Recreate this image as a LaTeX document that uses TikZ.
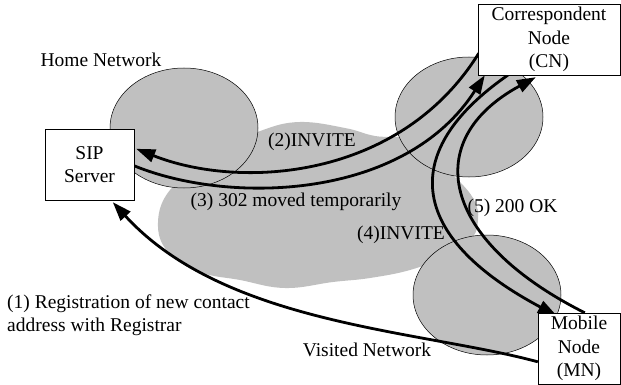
\documentclass[tikz,border=0pt]{standalone}
\usepackage{fontspec}
\setmainfont{Liberation Serif}
\usetikzlibrary{arrows.meta,calc}
\definecolor{netgray}{RGB}{192,192,192}
\begin{document}
\begin{tikzpicture}[x=1pt,y=-1pt,
  txt/.style={font=\fontsize{19.5}{23.5}\selectfont, inner sep=0pt},
  entity/.style={draw, line width=0.9pt, fill=white, align=center, inner sep=0pt,
                 font=\fontsize{19.5}{23.5}\selectfont},
  net/.style={fill=netgray, draw=black, line width=0.5pt},
  msg/.style={line width=2.8pt, -{Triangle[length=19pt,width=13pt]}},
]
\useasboundingbox (0,0) rectangle (621,385);

% core network cloud
\fill[netgray] plot[smooth cycle, tension=0.7] coordinates {
  (263,130) (300,122) (345,128) (375,136) (410,140) (440,165) (458,180)
  (474,200) (478,220) (470,240) (440,258) (410,270) (370,278) (333,282)
  (285,288) (240,280) (200,272) (168,252) (158,222) (170,190) (200,170) (235,145)};

% access networks
\draw[net] (184,128) ellipse [x radius=74, y radius=60];
\draw[net] (469,117) ellipse [x radius=74, y radius=60];
\draw[net] (487,295) ellipse [x radius=74, y radius=60];

% network labels
\node[txt] (homelbl) at (101,60) {Home Network};
\node[txt] (visitlbl) at (367,350) {Visited Network};

% box outlines reserved first, drawn after the messages
\path (89.5,164.5) node[minimum width=89pt, minimum height=71pt, inner sep=0pt] (sip) {}
      (549,39.5) node[minimum width=142pt, minimum height=71pt, inner sep=0pt] (cn) {}
      (579,348.5) node[minimum width=82pt, minimum height=71pt, inner sep=0pt] (mn) {};

% attachment points on the boxes
\coordinate (cn-inv2) at ($(cn.south west)+(1,-22)$);
\coordinate (cn-302) at ($(cn.south west)+(7,0)$);
\coordinate (cn-inv4) at ($(cn.south west)+(30,0)$);
\coordinate (cn-ok) at ($(cn.south west)+(58,2)$);
\coordinate (sip-inv2) at ($(sip.north east)+(2,20)$);
\coordinate (sip-302) at ($(sip.north east)+(0,37)$);
\coordinate (sip-reg) at ($(sip.south west)+(68,2)$);
\coordinate (mn-inv4) at ($(mn.north west)+(19,3)$);
\coordinate (mn-ok) at ($(mn.north west)+(47,0)$);
\coordinate (mn-reg) at ($(mn.north west)+(0,49)$);

% signalling messages
\draw[msg] (cn-inv2) .. controls (400,180) and (240,190) .. (sip-inv2);
\draw[msg] (sip-302) .. controls (230,205) and (405,200) .. (cn-302);
\draw[msg] (cn-inv4) .. controls (400,150) and (405,235) .. (mn-inv4);
\draw[msg] (mn-ok) .. controls (440,240) and (420,140) .. (cn-ok);
\draw[msg] (mn-reg) .. controls (420,330) and (225,325) .. (sip-reg);

% entities
\node[entity, minimum width=89pt, minimum height=71pt] at (sip) {SIP\\Server};
\node[entity, minimum width=142pt, minimum height=71pt] at (cn) {Correspondent\\Node\\(CN)};
\node[entity, minimum width=82pt, minimum height=71pt] at (mn) {Mobile\\Node\\(MN)};

% message labels
\node[txt] (l2) at (312,142) {(2)INVITE};
\node[txt] (l3) at (296,202) {(3) 302 moved temporarily};
\node[txt] (l4) at (401,235) {(4)INVITE};
\node[txt] (l5) at (512.5,208) {(5) 200 OK};
\node[txt, anchor=west, align=left] (l1) at (7,315) {(1) Registration of new contact\\address with Registrar};
\end{tikzpicture}
\end{document}
